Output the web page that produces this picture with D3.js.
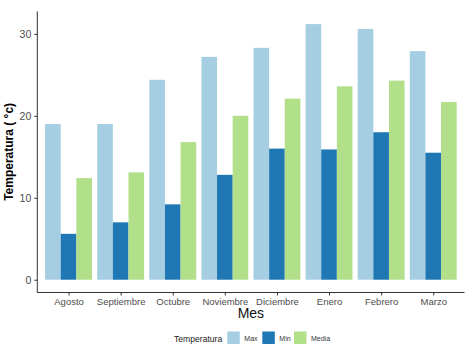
<!DOCTYPE html>
<html><head><meta charset="utf-8">
<script src="https://cdn.jsdelivr.net/npm/d3@7"></script>
<style>body{margin:0;background:#fff}svg{display:block}text{font-family:"Liberation Sans",Arial,sans-serif}</style>
</head><body><svg id="c" width="469" height="355"></svg>
<script>
const categories = ["Agosto","Septiembre","Octubre","Noviembre","Diciembre","Enero","Febrero","Marzo"];
const seriesNames = ["Max","Min","Media"];
const maxValues = [19.0,19.0,24.4,27.2,28.3,31.2,30.6,27.9];
const minValues = [5.6,7.0,9.2,12.8,16.0,15.9,18.0,15.5];
const mediaValues = [12.4,13.1,16.8,20.0,22.1,23.6,24.3,21.7];
const yTicks = [0,10,20,30];
const colors = ["#a6cee3","#1f78b4","#b2df8a"];

const svg = d3.select("#c");
const pLeft = 37.3, pRight = 464.5, pTop = 11.3, pBottom = 292.5;
const n = categories.length;
const step = (pRight-pLeft)/(n+0.2);
const xc = d3.scalePoint().domain(categories).range([pLeft+0.6*step, pRight-0.6*step]);
const bw = 0.9*step;
const xs = d3.scaleBand().domain(seriesNames).range([-bw/2, bw/2]);
const allMax = d3.max(maxValues);
const y = d3.scaleLinear().domain([-0.05*allMax, allMax*1.05]).range([pBottom, pTop]);

const data = [];
categories.forEach((c,i)=>{
  [maxValues,minValues,mediaValues].forEach((arr,j)=>data.push({c, s:seriesNames[j], v:arr[i], col:colors[j]}));
});
svg.append("g").selectAll("rect").data(data).join("rect")
  .attr("x", d=>xc(d.c)+xs(d.s)).attr("width", xs.bandwidth())
  .attr("y", d=>y(d.v)).attr("height", d=>y(0)-y(d.v)).attr("fill", d=>d.col);

// axes
const yAxis = d3.axisLeft(y).tickValues(yTicks).tickSize(3).tickPadding(3);
const gy = svg.append("g").attr("transform",`translate(${pLeft},0)`).call(yAxis);
gy.select(".domain").attr("d",`M0,${pTop}V${pBottom}`).attr("stroke","#333").attr("stroke-width",1);
gy.selectAll(".tick line").attr("stroke","#333");
gy.selectAll(".tick text").attr("fill","#4d4d4d").attr("font-size","10.5px").style("font-family","Liberation Sans, Arial");

const xAxis = d3.axisBottom(xc).tickSize(3).tickPadding(3);
const gx = svg.append("g").attr("transform",`translate(0,${pBottom})`).call(xAxis);
gx.select(".domain").attr("d",`M${pLeft},0H${pRight}`).attr("stroke","#333").attr("stroke-width",1);
gx.selectAll(".tick line").attr("stroke","#333");
gx.selectAll(".tick text").attr("fill","#4d4d4d").attr("font-size","9.5px").style("font-family","Liberation Sans, Arial");

svg.append("text").attr("transform",`translate(13,${(pTop+pBottom)/2}) rotate(-90)`)
  .attr("text-anchor","middle").attr("font-size","12px").attr("font-weight","bold").text("Temperatura ( °c)");
svg.append("text").attr("x",(pLeft+pRight)/2).attr("y",318).attr("text-anchor","middle")
  .attr("font-size","14px").attr("fill","#111").text("Mes");

// legend
const lg = svg.append("g");
lg.append("text").attr("x",174).attr("y",341.5).attr("font-size","8.6px").attr("fill","#222").text("Temperatura");
const keyX = [227.3, 262.3, 294];
seriesNames.forEach((s,j)=>{
  lg.append("rect").attr("x",keyX[j]).attr("y",331.5).attr("width",12.5).attr("height",12.5).attr("fill",colors[j]);
  lg.append("text").attr("x",keyX[j]+17).attr("y",340.5).attr("font-size","7px").attr("fill","#333").text(s);
});
</script></body></html>
